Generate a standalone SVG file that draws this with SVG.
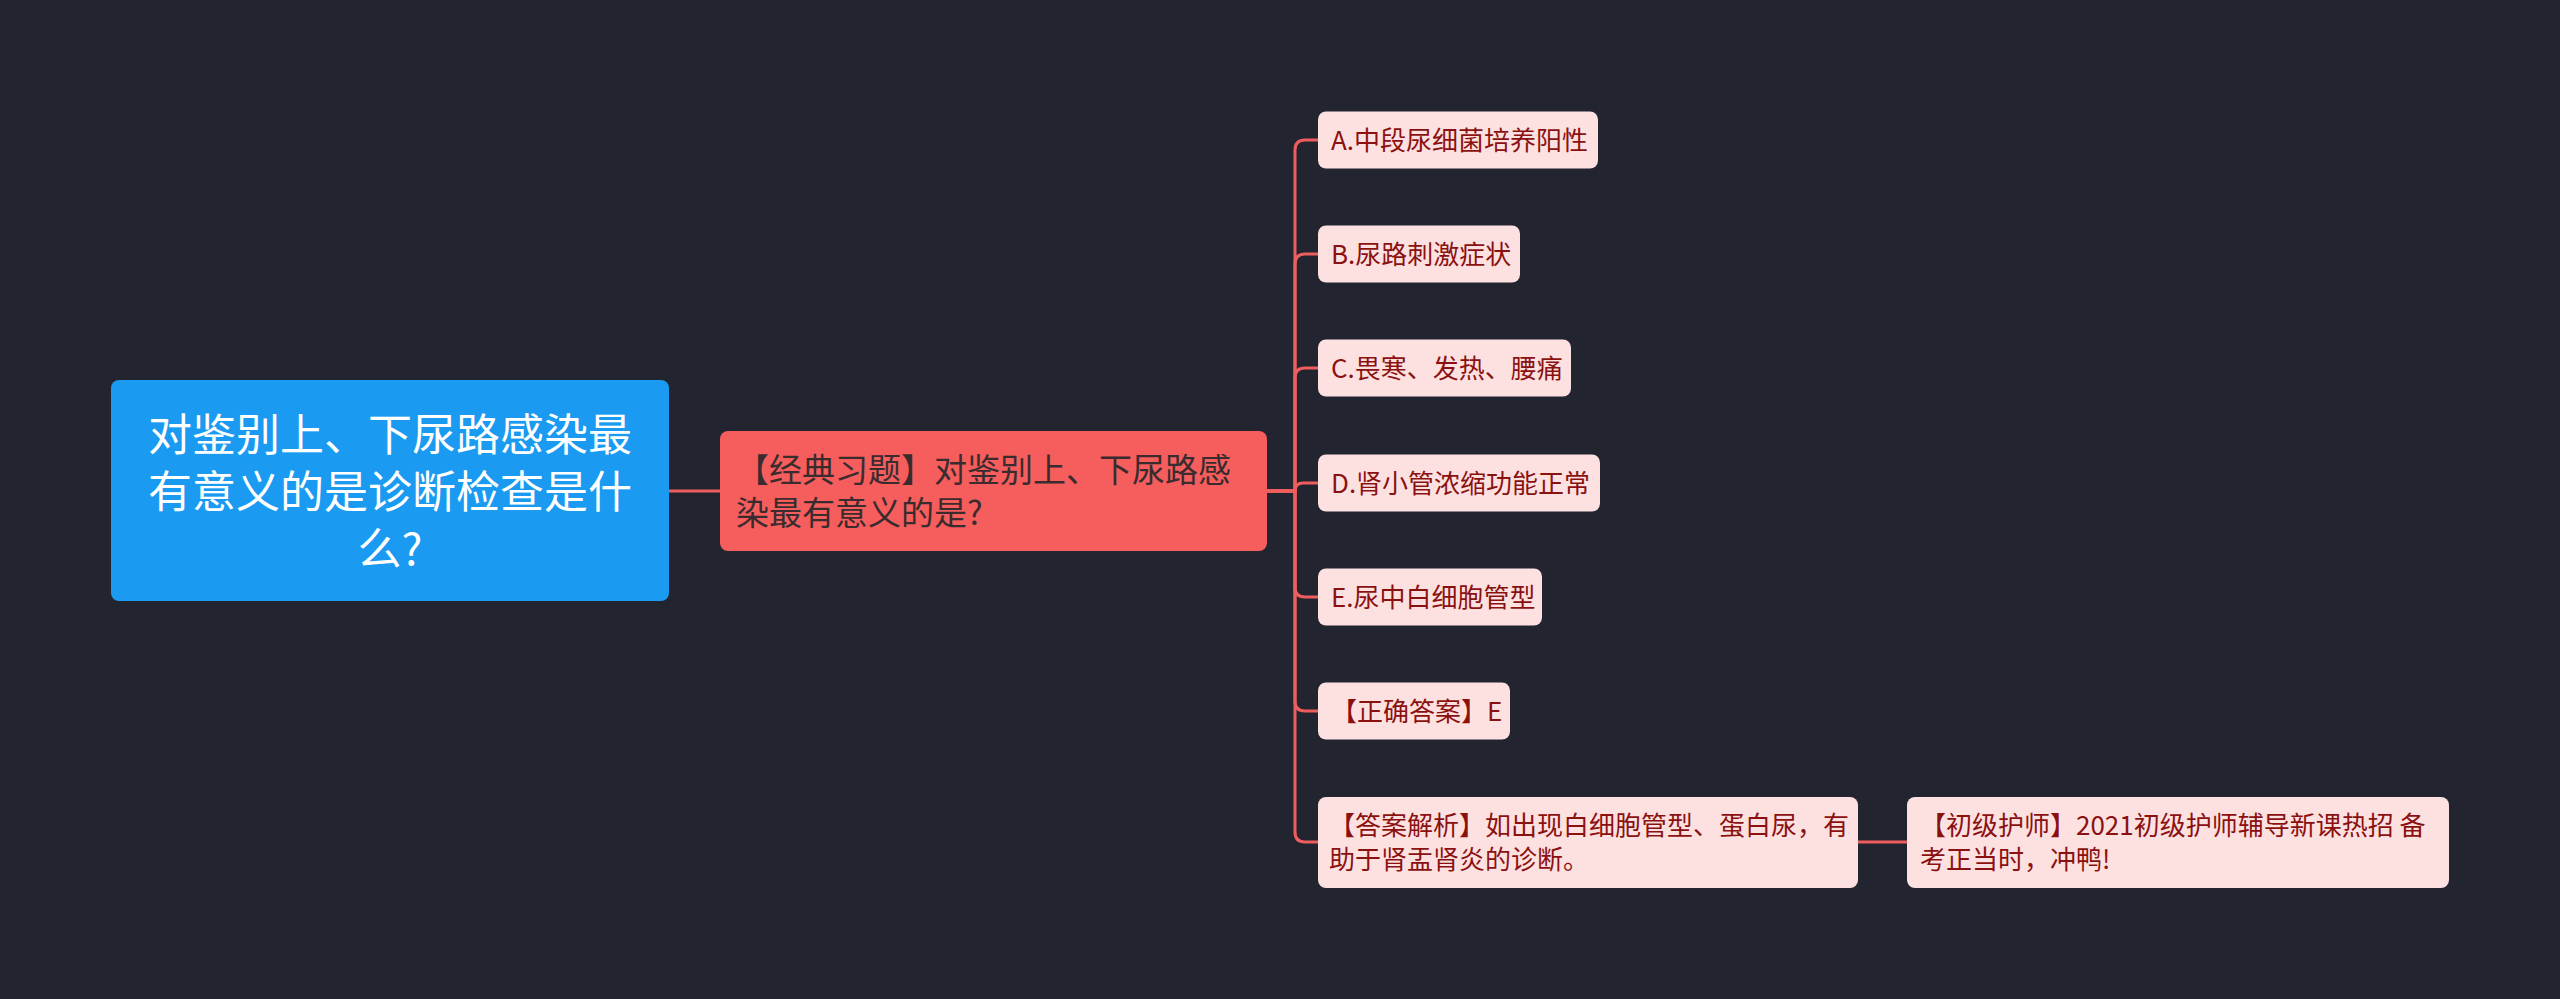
<svg xmlns="http://www.w3.org/2000/svg" width="2560" height="999" viewBox="0 0 2560 999">
<style>
.bg{fill:#222530}
.conn path{fill:none;stroke:#ef5e5e;stroke-width:3;stroke-linecap:round}
.root rect{fill:#1a9af0}
.root text{fill:#ffffff;font-size:44px;text-anchor:middle}
.mid rect{fill:#f65d5d}
.mid text{fill:#3a2c2e;font-size:33px}
.leaf rect{fill:#fde1e1}
.leaf text{fill:#8b1111;font-size:26px}
text{font-family:"Noto Sans CJK SC","Noto Sans",sans-serif}
</style>
<rect class="bg" x="0" y="0" width="2560" height="999"/>
<g id="connectors" class="conn">
<path d="M669,491 H720"/>
<path d="M1267,491 H1295 V150 Q1295,140 1305,140 H1318"/>
<path d="M1267,491 H1295 V264 Q1295,254 1305,254 H1318"/>
<path d="M1267,491 H1295 V378 Q1295,368 1305,368 H1318"/>
<path d="M1267,491 H1295 Q1295,483 1303,483 H1318"/>
<path d="M1267,491 H1295 V587 Q1295,597 1305,597 H1318"/>
<path d="M1267,491 H1295 V701 Q1295,711 1305,711 H1318"/>
<path d="M1267,491 H1295 V832 Q1295,842 1305,842 H1318"/>
<path d="M1858,842 H1907"/>
</g>
<g id="root" class="root">
<rect x="111" y="380" width="558" height="221" rx="8"/>
<text x="390" y="451">对鉴别上、下尿路感染最</text>
<text x="390" y="508">有意义的是诊断检查是什</text>
<text x="390" y="565">么?</text>
</g>
<g id="mid" class="mid">
<rect x="720" y="431" width="547" height="120" rx="8"/>
<text x="736" y="482">【经典习题】对鉴别上、下尿路感</text>
<text x="736" y="525">染最有意义的是?</text>
</g>
<g id="optA" class="leaf">
<rect x="1318" y="111.5" width="280" height="57" rx="8"/>
<text x="1331" y="150">A.中段尿细菌培养阳性</text>
</g>
<g id="optB" class="leaf">
<rect x="1318" y="225.5" width="202" height="57" rx="8"/>
<text x="1331" y="264">B.尿路刺激症状</text>
</g>
<g id="optC" class="leaf">
<rect x="1318" y="339.5" width="253" height="57" rx="8"/>
<text x="1331" y="378">C.畏寒、发热、腰痛</text>
</g>
<g id="optD" class="leaf">
<rect x="1318" y="454.5" width="282" height="57" rx="8"/>
<text x="1331" y="493">D.肾小管浓缩功能正常</text>
</g>
<g id="optE" class="leaf">
<rect x="1318" y="568.5" width="224" height="57" rx="8"/>
<text x="1331" y="607">E.尿中白细胞管型</text>
</g>
<g id="answer" class="leaf">
<rect x="1318" y="682.5" width="192" height="57" rx="8"/>
<text x="1331" y="721">【正确答案】E</text>
</g>
<g id="analysis" class="leaf">
<rect x="1318" y="797" width="540" height="91" rx="8"/>
<text x="1329" y="835">【答案解析】如出现白细胞管型、蛋白尿，有</text>
<text x="1329" y="869">助于肾盂肾炎的诊断。</text>
</g>
<g id="ad" class="leaf">
<rect x="1907" y="797" width="542" height="91" rx="8"/>
<text x="1920" y="835">【初级护师】2021初级护师辅导新课热招 备</text>
<text x="1920" y="869">考正当时，冲鸭!</text>
</g>
</svg>
